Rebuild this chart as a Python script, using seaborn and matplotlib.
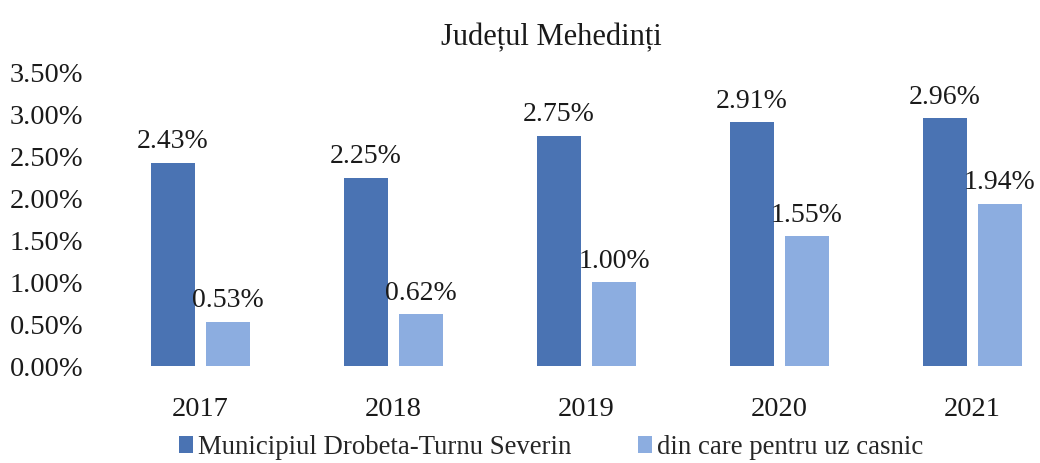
import pandas as pd
import matplotlib
matplotlib.use("Agg")
import matplotlib.pyplot as plt
import seaborn as sns

years = ["2017", "2018", "2019", "2020", "2021"]
municipiu = [2.43, 2.25, 2.75, 2.91, 2.96]
uz_casnic = [0.53, 0.62, 1.00, 1.55, 1.94]
series_names = ["Municipiul Drobeta-Turnu Severin", "din care pentru uz casnic"]
colors = ["#4a73b3", "#8cade0"]

df = pd.DataFrame({
    "an": years * 2,
    "valoare": municipiu + uz_casnic,
    "serie": [series_names[0]] * len(years) + [series_names[1]] * len(years),
})

sns.set_style("white")
plt.rcParams["font.family"] = ["Liberation Serif", "DejaVu Serif"]

fig = plt.figure(figsize=(10.4, 4.63), dpi=100)
ax = fig.add_axes([0.1, 0.2095, 0.9, 0.633])

sns.barplot(data=df, x="an", y="valoare", hue="serie", palette=colors,
            saturation=1, width=0.57, gap=0.21, linewidth=0, edgecolor="none",
            ax=ax, legend=True)

for cont in ax.containers:
    ax.bar_label(cont, fmt="%.2f%%", padding=6, fontsize=20, color="#1a1a1a")

ax.set_ylim(0, 3.5)
ax.set_xlim(-0.5, 4.35)
ax.set_yticks([i * 0.5 for i in range(8)])
ax.set_yticklabels(["%.2f%%" % (i * 0.5) for i in range(8)])
ax.tick_params(axis="both", length=0, labelsize=20.5, colors="#1a1a1a")
ax.tick_params(axis="y", pad=15)
ax.tick_params(axis="x", pad=22)
ax.set_xlabel("")
ax.set_ylabel("")
sns.despine(ax=ax, left=True, bottom=True)

fig.suptitle("Județul Mehedinți", x=0.53, y=0.95, fontsize=22, color="#1a1a1a")

handles, labels = ax.get_legend_handles_labels()
ax.get_legend().remove()
fig.legend(handles, labels, loc="lower center", bbox_to_anchor=(0.53, -0.045),
           ncol=2, frameon=False, fontsize=19.3, handlelength=0.5,
           handleheight=0.6, handletextpad=0.2, columnspacing=2.5)

fig.savefig("out.png", dpi=100)
